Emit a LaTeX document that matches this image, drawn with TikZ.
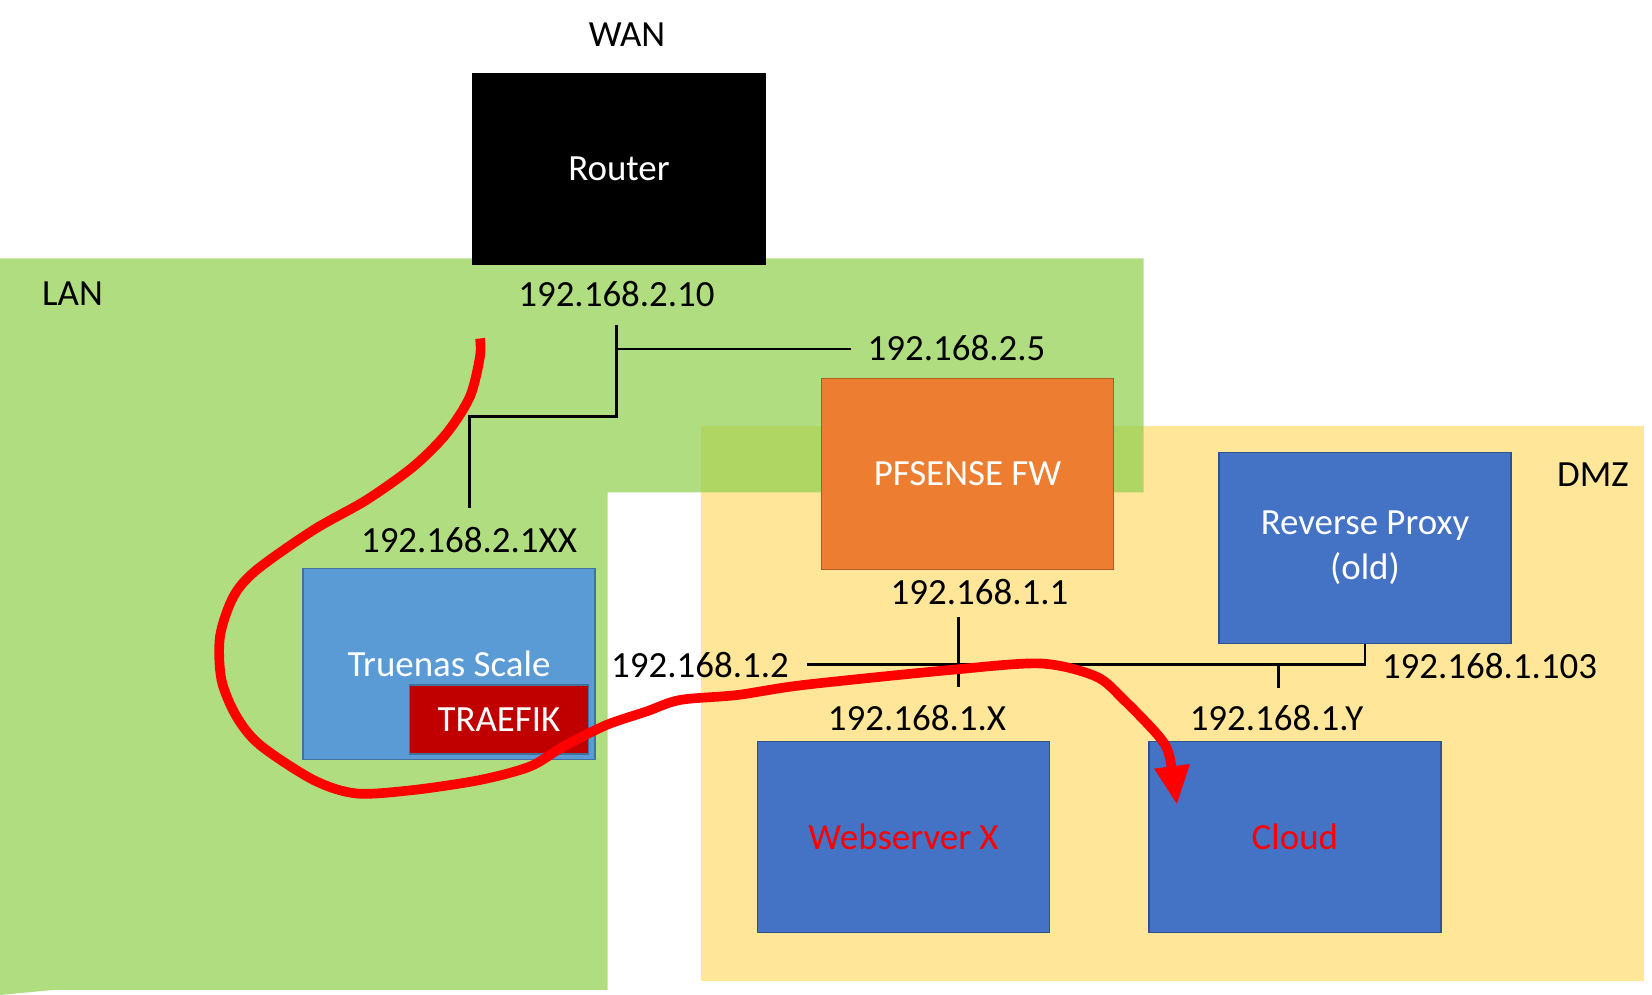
\documentclass[tikz,border=0pt]{standalone}
\usepackage{fontspec}
\setmainfont{Carlito}
\usetikzlibrary{positioning, arrows.meta}

\definecolor{langreen}{HTML}{92D050}
\definecolor{dmzyellow}{HTML}{FFE699}
\definecolor{fworange}{HTML}{ED7D31}
\definecolor{fwedge}{HTML}{AE5A21}
\definecolor{hostblue}{HTML}{4472C4}
\definecolor{hostedge}{HTML}{2F528F}
\definecolor{nasblue}{HTML}{5B9BD5}
\definecolor{nasedge}{HTML}{41719C}
\definecolor{traefikred}{HTML}{C00000}

\begin{document}
\begin{tikzpicture}[
    font=\fontsize{21}{25.5}\selectfont,
    box/.style={draw, line width=0.8pt, minimum width=5.84cm, minimum height=3.82cm, inner sep=0pt, text=white, align=center},
    routerbox/.style={box, fill=black},
    fwbox/.style={box, fill=fworange, draw=fwedge},
    hostbox/.style={box, fill=hostblue, draw=hostedge},
    nasbox/.style={box, fill=nasblue, draw=nasedge},
    appbox/.style={box, fill=traefikred, draw=nasedge, minimum width=3.58cm, minimum height=1.38cm},
    ip/.style={text=black},
    zone/.style={text=black},
    wire/.style={draw=black, line width=1.3pt},
    flow/.style={draw=red, line width=5.5pt, line join=round, -{Triangle[length=0.78cm, width=0.66cm]}}
  ]
    \useasboundingbox (0,0) rectangle (33.04,19.9);

    % zones
    \fill[dmzyellow] (14.01,0.27) rectangle (32.87,11.38);
    \fill[langreen, fill opacity=0.73] (0,0) -- (1.06,0.1) -- (12.15,0.1) -- (12.15,10.05) -- (22.87,10.05) -- (22.87,14.73) -- (0,14.73) -- cycle;

    \node[zone] (wan) at (12.54,19.2) {WAN};
    \node[zone] (lan) at (1.45,14.02) {LAN};
    \node[zone] (dmz) at (31.86,10.4) {DMZ};

    % ==========================================
    \node[routerbox] (router) at (12.38,16.52) {Router};
    \node[fwbox] (fw) at (19.35,10.42) {PFSENSE FW};
    \node[hostbox] (proxy) at (27.3,8.94) {Reverse Proxy\\(old)};
    \node[nasbox] (nas) at (8.98,6.62) {Truenas Scale};
    \node[appbox] (traefik) at (9.98,5.51) {TRAEFIK};
    \node[hostbox, text=red] (webx) at (18.07,3.16) {Webserver X};
    \node[hostbox, text=red, right=1.96cm of webx] (cloud) {Cloud};

    \node[ip] (ipRouter) at (12.33,14.02) {192.168.2.10};
    \node[ip] (ipFwLan) at (19.13,12.93) {192.168.2.5};
    \node[ip] (ipNas) at (9.38,9.1) {192.168.2.1XX};
    \node[ip] (ipFwDmz) at (19.59,8.05) {192.168.1.1};
    \node[ip] (ipNasDmz) at (14.0,6.6) {192.168.1.2};
    \node[ip] (ipProxy) at (29.79,6.57) {192.168.1.103};
    \node[ip] (ipWebx) at (18.34,5.53) {192.168.1.X};
    \node[ip] (ipCloud) at (25.53,5.53) {192.168.1.Y};

    % ==========================================
    \coordinate (lanTop) at (12.33,13.4);
    \coordinate (lanJoin) at (12.33,11.57);
    \coordinate (lanFw) at (17.01,12.92);
    \coordinate (lanNas) at (9.39,9.73);
    \draw[wire] (lanTop) -- (lanJoin) -| (lanNas);
    \draw[wire] (lanTop |- lanFw) -- (lanFw);

    \coordinate (dmzFw) at (19.17,7.55);
    \coordinate (dmzWebx) at (19.17,6.15);
    \coordinate (dmzLeft) at (16.14,6.61);
    \coordinate (dmzCloud) at (25.57,6.13);
    \draw[wire] (dmzFw) -- (dmzWebx);
    \draw[wire] (dmzLeft) -| (proxy.south);
    \draw[wire] (dmzCloud |- dmzLeft) -- (dmzCloud);

    % ==========================================
    \coordinate (flowStart) at (9.6,13.13);
    \coordinate (flowEnd) at (23.54,3.8);
    \draw[flow] plot[smooth, tension=0.5] coordinates {(flowStart) (9.6,12.77) (9.4,11.97) (8.93,11.23) (8.27,10.57) (7.33,9.9) (6.27,9.3) (5.13,8.5) (4.67,7.97) (4.4,7.17) (4.43,6.3) (4.73,5.57) (5.2,5.0) (6.27,4.3) (7.13,4.03) (8.27,4.1) (9.6,4.3) (10.6,4.57) (11.27,4.97) (12.13,5.4) (12.93,5.67) (13.6,5.9) (14.75,6.0) (16.07,6.2) (19.0,6.5) (20.81,6.63) (21.92,6.37) (22.48,5.9) (23.18,5.17) (23.39,4.77) (flowEnd)};

  \end{tikzpicture}
\end{document}
